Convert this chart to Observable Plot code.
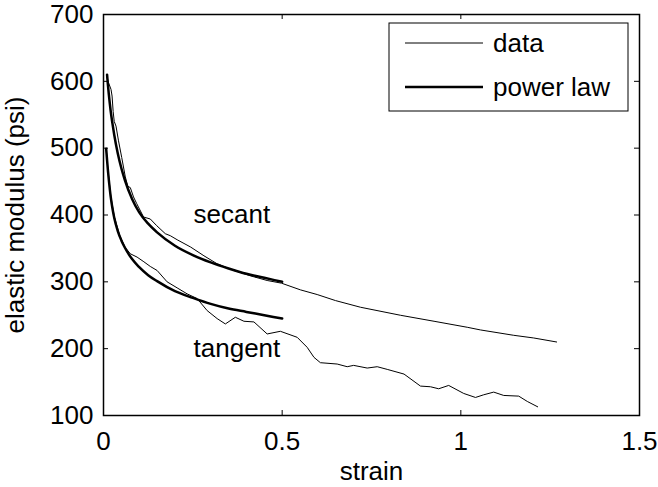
<!DOCTYPE html>
<html>
<head>
<meta charset="utf-8">
<script src="https://cdn.jsdelivr.net/npm/d3@7"></script>
<script src="https://cdn.jsdelivr.net/npm/@observablehq/plot@0.6"></script>
<style>
  html, body { margin: 0; padding: 0; background: #fff; }
  #chart svg { display: block; }
</style>
</head>
<body>
<div id="chart"></div>
<script>
// ---- Data ----
const xTicks = [0, 0.5, 1, 1.5];
const yTicks = [100, 200, 300, 400, 500, 600, 700];

const secantDataStrain = [0.009, 0.014, 0.021, 0.024, 0.027, 0.030, 0.035, 0.042, 0.051, 0.061, 0.068, 0.075, 0.084, 0.093, 0.112, 0.131, 0.149, 0.173, 0.187, 0.206, 0.244, 0.281, 0.318, 0.365, 0.411, 0.458, 0.498, 0.551, 0.598, 0.649, 0.719, 0.831, 0.925, 1.018, 1.055, 1.148, 1.204, 1.268];
const secantDataModulus = [608, 598, 588, 578, 555, 540, 533, 511, 486, 457, 443, 441, 427, 417, 397, 394, 384, 372, 369, 363, 352, 339, 327, 317, 309, 302, 298, 288, 281, 272, 262, 250, 241, 232, 228, 220, 216, 210];

const tangentDataStrain = [0.0075, 0.012, 0.020, 0.030, 0.045, 0.060, 0.075, 0.094, 0.113, 0.131, 0.150, 0.178, 0.206, 0.234, 0.262, 0.290, 0.318, 0.341, 0.369, 0.393, 0.421, 0.458, 0.495, 0.542, 0.570, 0.589, 0.607, 0.654, 0.682, 0.700, 0.738, 0.766, 0.794, 0.841, 0.887, 0.915, 0.938, 0.966, 1.008, 1.041, 1.064, 1.092, 1.120, 1.162, 1.186, 1.215];
const tangentDataModulus = [499, 470, 430, 398, 370, 352, 342, 337, 330, 323, 317, 300, 291, 282, 275, 257, 245, 237, 247, 241, 240, 222, 226, 217, 202, 187, 179, 177, 173, 175, 171, 173, 169, 162, 144, 143, 140, 145, 133, 127, 131, 135, 130, 129, 121, 113];

const secantFitStrain = [0.010, 0.012, 0.015, 0.020, 0.025, 0.030, 0.040, 0.050, 0.060, 0.080, 0.100, 0.125, 0.150, 0.200, 0.250, 0.300, 0.350, 0.400, 0.450, 0.500];
const secantFitModulus = [610, 597, 580, 556, 537, 520, 492, 470, 452, 424, 404, 387, 374, 354, 340, 329, 320, 312, 306, 300];

const tangentFitStrain = [0.0075, 0.010, 0.0125, 0.015, 0.020, 0.025, 0.030, 0.040, 0.050, 0.060, 0.080, 0.100, 0.125, 0.150, 0.200, 0.250, 0.300, 0.350, 0.400, 0.450, 0.500];
const tangentFitModulus = [499, 482, 466, 452, 428, 410, 396, 376, 362, 351, 334, 322, 310, 301, 286, 276, 267, 260, 255, 250, 245];

const annotationText = ["secant", "tangent"];
const annotationStrain = [0.252, 0.252];
const annotationModulus = [400, 200];

const legendLabels = ["data", "power law"];

// ---- Build tables ----
const rows = (xs, ys) => xs.map((x, i) => ({strain: x, modulus: ys[i]}));
const annotations = annotationText.map((t, i) => ({text: t, strain: annotationStrain[i], modulus: annotationModulus[i]}));

// ---- Layout ----
const W = 658, H = 487;
const mL = 103, mR = 19, mT = 14, mB = 72;
const plotW = W - mL - mR, plotH = H - mT - mB;
const tickLen = 5;
const FONT = "'Liberation Sans', Arial, Helvetica, sans-serif";

const chart = Plot.plot({
  width: W,
  height: H,
  marginLeft: mL, marginRight: mR, marginTop: mT, marginBottom: mB,
  style: {fontFamily: FONT, fontSize: "26px", background: "white", color: "black"},
  x: {domain: [0, 1.5]},
  y: {domain: [100, 700]},
  marks: [
    Plot.axisX({ticks: xTicks, tickSize: 0, tickPadding: 16, label: null, tickFormat: d => String(d)}),
    Plot.axisY({ticks: yTicks, tickSize: 0, tickPadding: 10, label: null, tickFormat: d => String(d)}),
    // inward ticks on all four sides
    Plot.tickX(xTicks, {x: d => d, insetTop: plotH - tickLen, stroke: "black", strokeWidth: 1}),
    Plot.tickX(xTicks, {x: d => d, insetBottom: plotH - tickLen, stroke: "black", strokeWidth: 1}),
    Plot.tickY(yTicks, {y: d => d, insetRight: plotW - tickLen, stroke: "black", strokeWidth: 1}),
    Plot.tickY(yTicks, {y: d => d, insetLeft: plotW - tickLen, stroke: "black", strokeWidth: 1}),
    // data
    Plot.line(rows(secantDataStrain, secantDataModulus), {x: "strain", y: "modulus", stroke: "black", strokeWidth: 1}),
    Plot.line(rows(tangentDataStrain, tangentDataModulus), {x: "strain", y: "modulus", stroke: "black", strokeWidth: 1}),
    // power law fits
    Plot.line(rows(secantFitStrain, secantFitModulus), {x: "strain", y: "modulus", stroke: "black", strokeWidth: 2.5, curve: "monotone-x"}),
    Plot.line(rows(tangentFitStrain, tangentFitModulus), {x: "strain", y: "modulus", stroke: "black", strokeWidth: 2.5, curve: "monotone-x"}),
    // annotations
    Plot.text(annotations, {x: "strain", y: "modulus", text: "text", textAnchor: "start", lineAnchor: "middle", fill: "black"}),
    // axis titles
    Plot.text(["strain"], {frameAnchor: "bottom", text: d => d, textAnchor: "middle", lineAnchor: "top", dy: 46.5, fill: "black"}),
    Plot.text(["elastic modulus (psi)"], {frameAnchor: "left", text: d => d, rotate: -90, textAnchor: "middle", lineAnchor: "middle", dx: -88, fill: "black"}),
    Plot.frame({stroke: "black", strokeWidth: 1.5})
  ]
});

document.getElementById("chart").appendChild(chart);

// ---- Legend (drawn inside the SVG, top-right) ----
const svg = d3.select(chart);
const lg = svg.append("g").attr("font-family", FONT).attr("font-size", 26).attr("text-anchor", "start");
lg.append("rect").attr("x", 389).attr("y", 23).attr("width", 239).attr("height", 88)
  .attr("fill", "white").attr("stroke", "black").attr("stroke-width", 1);
const legendY = [43, 87];
const legendW = [1, 2.5];
legendLabels.forEach((lab, i) => {
  lg.append("line").attr("x1", 405).attr("x2", 483).attr("y1", legendY[i]).attr("y2", legendY[i])
    .attr("stroke", "black").attr("stroke-width", legendW[i]);
  lg.append("text").attr("x", 493).attr("y", legendY[i] + 9).attr("text-anchor", "start").attr("fill", "black").text(lab);
});
</script>
</body>
</html>
